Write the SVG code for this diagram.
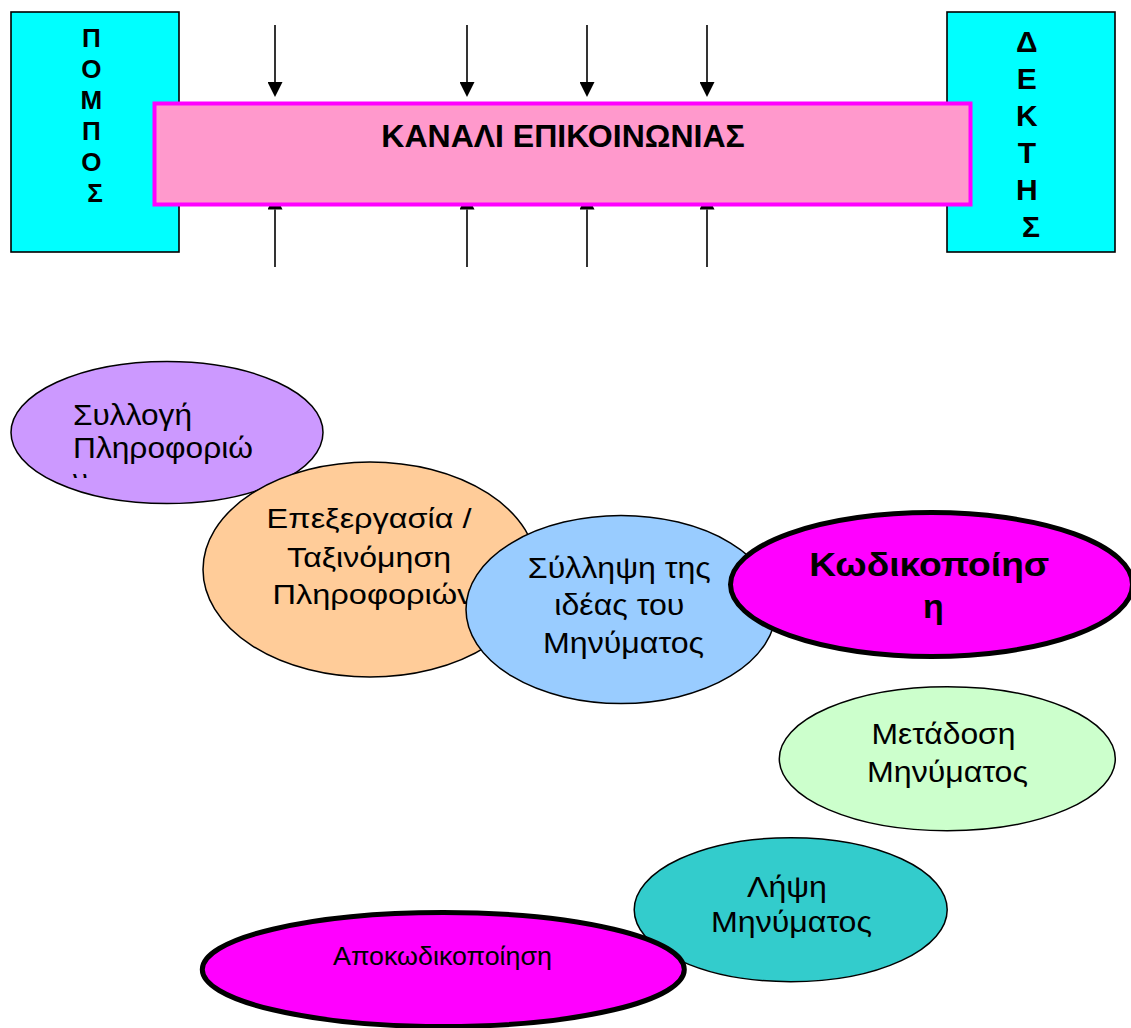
<svg xmlns="http://www.w3.org/2000/svg" width="1131" height="1028" viewBox="0 0 1131 1028">
  <style>
    .box { fill: #00FFFF; stroke: #000; stroke-width: 1.6; }
    .vert { font-family: "Liberation Sans", Arial, sans-serif; font-weight: bold; fill: #000; text-anchor: middle; }
    .chan { fill: #FF99CC; stroke: #FF00FF; stroke-width: 4; }
    .chan-label { font-family: "Liberation Sans", Arial, sans-serif; font-weight: bold; font-size: 32px; fill: #000; text-anchor: middle; }
    .wire { stroke: #000; stroke-width: 1.6; fill: none; }
    .thin { stroke: #000; stroke-width: 1.5; }
    .thick { stroke: #000; stroke-width: 5; fill: #FF00FF; }
    .lbl { font-family: "Liberation Sans", Arial, sans-serif; fill: #000; }
    .mid { text-anchor: middle; }
  </style>
  <defs>
    <marker id="head" markerUnits="userSpaceOnUse" viewBox="0 0 15 15" markerWidth="15" markerHeight="15" refX="0" refY="7.5" orient="auto">
      <path d="M0,0 L15,7.5 L0,15 Z" fill="#000"/>
    </marker>
    <clipPath id="clip-collect">
      <rect x="0" y="380" width="330" height="98"/>
    </clipPath>
  </defs>

  <rect width="1131" height="1028" fill="#fff"/>

  <!-- sender -->
  <g id="sender">
    <rect class="box" x="11" y="12" width="168" height="240"/>
    <text class="vert" font-size="26">
      <tspan x="95" y="47">Π</tspan>
      <tspan x="95" y="78">Ο</tspan>
      <tspan x="95" y="109">Μ</tspan>
      <tspan x="95" y="140">Π</tspan>
      <tspan x="95" y="171">Ο</tspan>
      <tspan x="95" y="202">Σ</tspan>
    </text>
  </g>

  <!-- receiver -->
  <g id="receiver">
    <rect class="box" x="947" y="12" width="168" height="240"/>
    <text class="vert" font-size="30">
      <tspan x="1031" y="52">Δ</tspan>
      <tspan x="1031" y="89">Ε</tspan>
      <tspan x="1031" y="126">Κ</tspan>
      <tspan x="1031" y="163">Τ</tspan>
      <tspan x="1031" y="200">Η</tspan>
      <tspan x="1031" y="237">Σ</tspan>
    </text>
  </g>

  <!-- noise arrows entering the channel from above and below -->
  <g id="connectors">
    <line class="wire" x1="275" y1="25" x2="275" y2="82" marker-end="url(#head)"/>
    <line class="wire" x1="467" y1="25" x2="467" y2="82" marker-end="url(#head)"/>
    <line class="wire" x1="587" y1="25" x2="587" y2="82" marker-end="url(#head)"/>
    <line class="wire" x1="707" y1="25" x2="707" y2="82" marker-end="url(#head)"/>
    <line class="wire" x1="275" y1="267" x2="275" y2="209.5" marker-end="url(#head)"/>
    <line class="wire" x1="467" y1="267" x2="467" y2="209.5" marker-end="url(#head)"/>
    <line class="wire" x1="587" y1="267" x2="587" y2="209.5" marker-end="url(#head)"/>
    <line class="wire" x1="707" y1="267" x2="707" y2="209.5" marker-end="url(#head)"/>
  </g>

  <!-- channel -->
  <g id="channel">
    <rect class="chan" x="154.5" y="103.5" width="816" height="101"/>
    <text class="chan-label" x="563" y="147">ΚΑΝΑΛΙ ΕΠΙΚΟΙΝΩΝΙΑΣ</text>
  </g>

  <!-- process stages -->
  <g id="collect">
    <ellipse class="thin" cx="167" cy="432.5" rx="156" ry="71" fill="#CC99FF"/>
    <text class="lbl" font-size="29" clip-path="url(#clip-collect)">
      <tspan x="73" y="425" textLength="119" lengthAdjust="spacingAndGlyphs">Συλλογή</tspan>
      <tspan x="73" y="457.5" textLength="180" lengthAdjust="spacingAndGlyphs">Πληροφοριώ</tspan>
      <tspan x="73" y="490">ν</tspan>
    </text>
  </g>

  <g id="process">
    <ellipse class="thin" cx="370" cy="569.5" rx="167" ry="107.5" fill="#FFCC99"/>
    <text class="lbl mid" font-size="28">
      <tspan x="373" y="528" textLength="205" lengthAdjust="spacingAndGlyphs">Επεξεργασία /</tspan>
      <tspan x="373" y="566.5" textLength="164" lengthAdjust="spacingAndGlyphs">Ταξινόμηση</tspan>
      <tspan x="373" y="604" textLength="201" lengthAdjust="spacingAndGlyphs">Πληροφοριών</tspan>
    </text>
  </g>

  <g id="idea">
    <ellipse class="thin" cx="621" cy="609.5" rx="155" ry="94" fill="#99CCFF"/>
    <text class="lbl mid" font-size="30">
      <tspan x="623.5" y="577.5" textLength="183" lengthAdjust="spacingAndGlyphs">Σύλληψη της</tspan>
      <tspan x="623.5" y="615" textLength="130" lengthAdjust="spacingAndGlyphs">ιδέας του</tspan>
      <tspan x="623.5" y="653" textLength="161" lengthAdjust="spacingAndGlyphs">Μηνύματος</tspan>
    </text>
  </g>

  <g id="encode">
    <ellipse class="thick" cx="931.5" cy="584.5" rx="201" ry="72"/>
    <text class="lbl mid" font-size="34" font-weight="bold">
      <tspan x="934" y="576" textLength="240" lengthAdjust="spacingAndGlyphs">Κωδικοποίησ</tspan>
      <tspan x="933.5" y="617.5">η</tspan>
    </text>
  </g>

  <g id="transmit">
    <ellipse class="thin" cx="947.3" cy="758.7" rx="168" ry="72" fill="#CCFFCC"/>
    <text class="lbl mid" font-size="29">
      <tspan x="947.5" y="744.3" textLength="144" lengthAdjust="spacingAndGlyphs">Μετάδοση</tspan>
      <tspan x="947.5" y="781.7" textLength="161" lengthAdjust="spacingAndGlyphs">Μηνύματος</tspan>
    </text>
  </g>

  <g id="receive">
    <ellipse class="thin" cx="790.7" cy="909.7" rx="156.5" ry="72" fill="#33CCCC"/>
    <text class="lbl mid" font-size="29">
      <tspan x="791" y="896.7" textLength="80" lengthAdjust="spacingAndGlyphs">Λήψη</tspan>
      <tspan x="791.5" y="932.3" textLength="161" lengthAdjust="spacingAndGlyphs">Μηνύματος</tspan>
    </text>
  </g>

  <g id="decode">
    <ellipse class="thick" cx="443.3" cy="969.5" rx="241" ry="57"/>
    <text class="lbl mid" font-size="25" x="442.5" y="965" textLength="219" lengthAdjust="spacingAndGlyphs">Αποκωδικοποίηση</text>
  </g>
</svg>
